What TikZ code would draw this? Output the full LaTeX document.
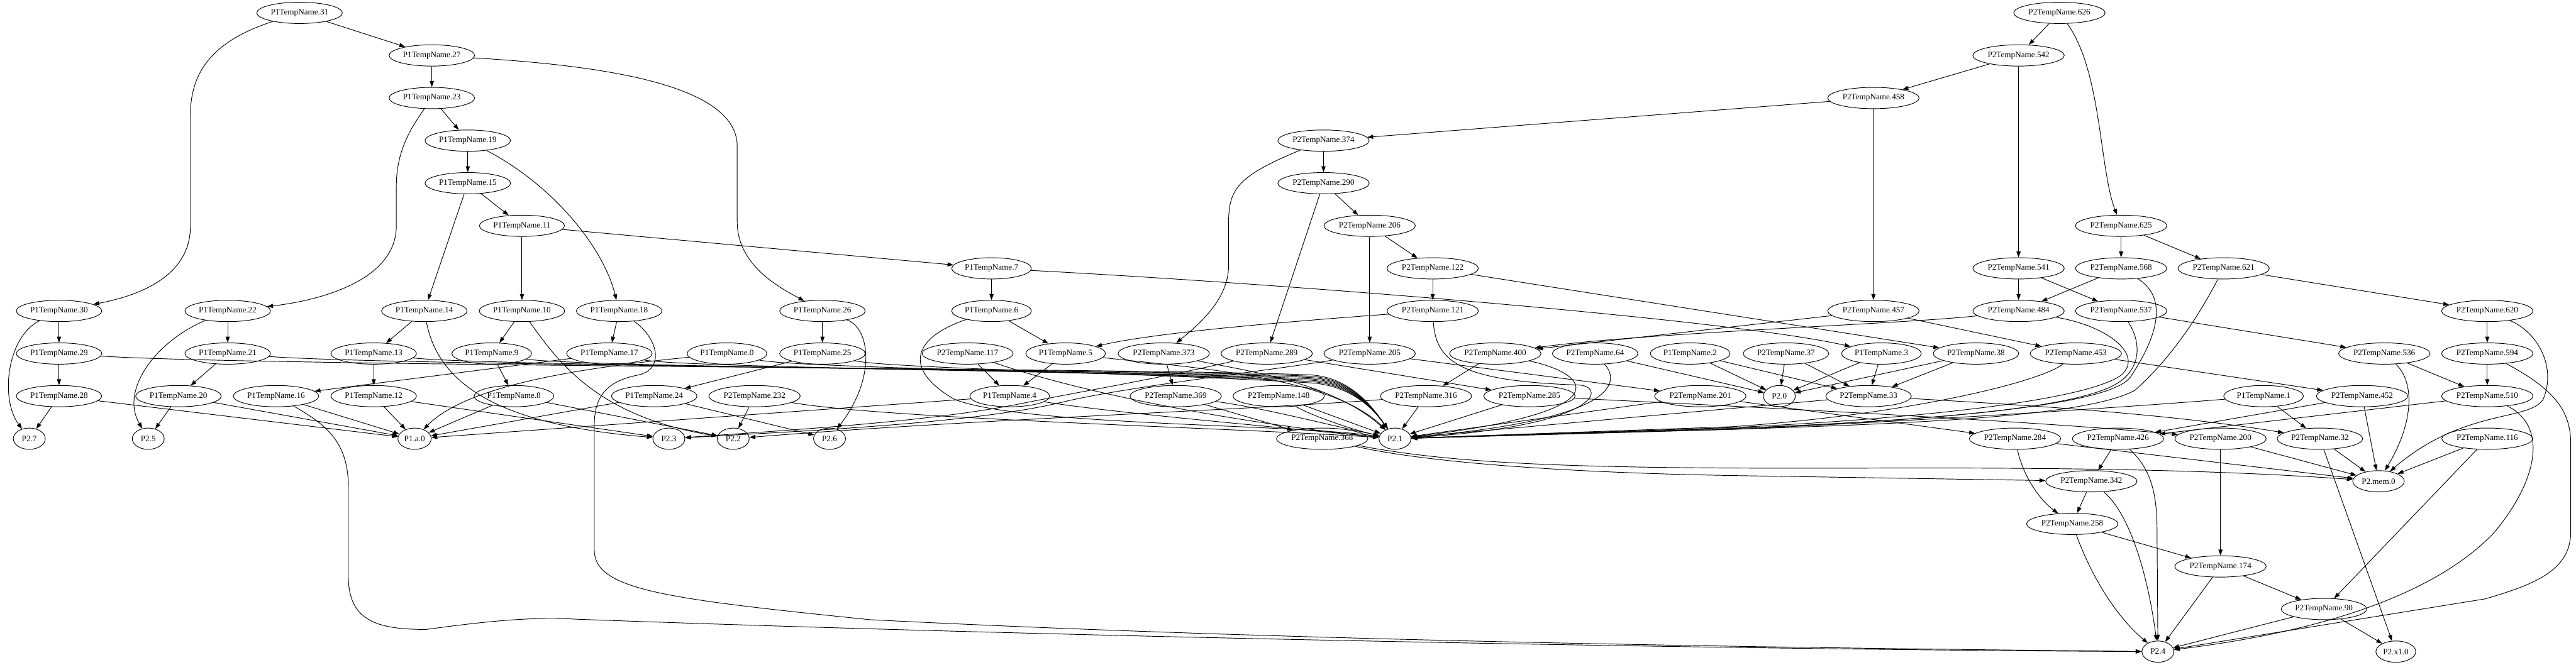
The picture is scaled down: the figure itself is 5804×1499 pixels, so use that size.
\documentclass[tikz,border=0pt]{standalone}
\usepackage{fontspec}
\setmainfont{Liberation Serif}
\usepackage{tikz}
\usetikzlibrary{arrows.meta,shapes.geometric}

\tikzset{
  tnode/.style={draw=\cLine, text=\cText, line width=1pt, ellipse, minimum width=54pt, minimum height=36pt,
    inner xsep=2.4pt, inner ysep=0pt, font=\fontsize{14}{16}\selectfont},
  link/.style={draw=\cLine, line width=1pt, -{Triangle[length=10pt,width=7pt]}}
}

\begin{document}
\begin{tikzpicture}[x=0.75pt,y=-0.75pt]
\def\cLine{black}
\def\cText{black}
\useasboundingbox (0,0) rectangle (5804,1499);
% P1 nodes
\node[tnode] (p1t31) at (675,29) {P1TempName.31};
\node[tnode] (p1t27) at (973,125) {P1TempName.27};
\node[tnode] (p1t23) at (973,221) {P1TempName.23};
\node[tnode] (p1t19) at (1054,317) {P1TempName.19};
\node[tnode] (p1t15) at (1054,413) {P1TempName.15};
\node[tnode] (p1t11) at (1176,509) {P1TempName.11};
\node[tnode] (p1t7) at (2234,605) {P1TempName.7};
\node[tnode] (p1t30) at (133,701) {P1TempName.30};
\node[tnode] (p1t22) at (513,701) {P1TempName.22};
\node[tnode] (p1t14) at (956,701) {P1TempName.14};
\node[tnode] (p1t10) at (1176,701) {P1TempName.10};
\node[tnode] (p1t18) at (1395,701) {P1TempName.18};
\node[tnode] (p1t26) at (1853,701) {P1TempName.26};
\node[tnode] (p1t6) at (2234,701) {P1TempName.6};
\node[tnode] (p1t29) at (133,797) {P1TempName.29};
\node[tnode] (p1t21) at (513,797) {P1TempName.21};
\node[tnode] (p1t13) at (842,797) {P1TempName.13};
\node[tnode] (p1t9) at (1108,797) {P1TempName.9};
\node[tnode] (p1t17) at (1373,797) {P1TempName.17};
\node[tnode] (p1t0) at (1638,797) {P1TempName.0};
\node[tnode] (p1t25) at (1853,797) {P1TempName.25};
\node[tnode] (p1t5) at (2401,797) {P1TempName.5};
\node[tnode] (p1t2) at (3808,797) {P1TempName.2};
\node[tnode] (p1t3) at (4239,797) {P1TempName.3};
\node[tnode] (p1t28) at (133,893) {P1TempName.28};
\node[tnode] (p1t20) at (402,893) {P1TempName.20};
\node[tnode] (p1t16) at (622,893) {P1TempName.16};
\node[tnode] (p1t12) at (842,893) {P1TempName.12};
\node[tnode] (p1t8) at (1158,893) {P1TempName.8};
\node[tnode] (p1t24) at (1474,893) {P1TempName.24};
\node[tnode] (p1t4) at (2275,893) {P1TempName.4};
\node[tnode] (p1t1) at (5100,893) {P1TempName.1};
% P2 nodes
\node[tnode] (p2t626) at (4640,29) {P2TempName.626};
\node[tnode] (p2t542) at (4548,125) {P2TempName.542};
\node[tnode] (p2t458) at (4221,221) {P2TempName.458};
\node[tnode] (p2t374) at (2982,317) {P2TempName.374};
\node[tnode] (p2t290) at (2982,413) {P2TempName.290};
\node[tnode] (p2t206) at (3086,509) {P2TempName.206};
\node[tnode] (p2t625) at (4779,509) {P2TempName.625};
\node[tnode] (p2t122) at (3228,605) {P2TempName.122};
\node[tnode] (p2t541) at (4548,605) {P2TempName.541};
\node[tnode] (p2t568) at (4779,605) {P2TempName.568};
\node[tnode] (p2t621) at (5010,605) {P2TempName.621};
\node[tnode] (p2t121) at (3228,701) {P2TempName.121};
\node[tnode] (p2t457) at (4221,701) {P2TempName.457};
\node[tnode] (p2t484) at (4548,701) {P2TempName.484};
\node[tnode] (p2t537) at (4779,701) {P2TempName.537};
\node[tnode] (p2t620) at (5604,701) {P2TempName.620};
\node[tnode] (p2t117) at (2180,797) {P2TempName.117};
\node[tnode] (p2t373) at (2622,797) {P2TempName.373};
\node[tnode] (p2t289) at (2854,797) {P2TempName.289};
\node[tnode] (p2t205) at (3086,797) {P2TempName.205};
\node[tnode] (p2t400) at (3369,797) {P2TempName.400};
\node[tnode] (p2t64) at (3594,797) {P2TempName.64};
\node[tnode] (p2t37) at (4024,797) {P2TempName.37};
\node[tnode] (p2t38) at (4452,797) {P2TempName.38};
\node[tnode] (p2t453) at (4677,797) {P2TempName.453};
\node[tnode] (p2t536) at (5372,797) {P2TempName.536};
\node[tnode] (p2t594) at (5604,797) {P2TempName.594};
\node[tnode] (p2t232) at (1700,893) {P2TempName.232};
\node[tnode] (p2t369) at (2649,893) {P2TempName.369};
\node[tnode] (p2t148) at (2881,893) {P2TempName.148};
\node[tnode] (p2t316) at (3213,893) {P2TempName.316};
\node[tnode] (p2t285) at (3446,893) {P2TempName.285};
\node[tnode] (p2t201) at (3831,893) {P2TempName.201};
\node[tnode] (p2t33) at (4210,893) {P2TempName.33};
\node[tnode] (p2t452) at (5322,893) {P2TempName.452};
\node[tnode] (p2t510) at (5604,893) {P2TempName.510};
\node[tnode] (p2t368) at (2979,989) {P2TempName.368};
\node[tnode] (p2t284) at (4540,989) {P2TempName.284};
\node[tnode] (p2t426) at (4772,989) {P2TempName.426};
\node[tnode] (p2t200) at (5003,989) {P2TempName.200};
\node[tnode] (p2t32) at (5227,989) {P2TempName.32};
\node[tnode] (p2t116) at (5604,989) {P2TempName.116};
\node[tnode] (p2t342) at (4712,1085) {P2TempName.342};
\node[tnode] (p2t258) at (4669,1181) {P2TempName.258};
\node[tnode] (p2t174) at (5003,1277) {P2TempName.174};
\node[tnode] (p2t90) at (5236,1373) {P2TempName.90};
% values
\node[tnode] (p2n7) at (66,989) {P2.7};
\node[tnode] (p2n5) at (334,989) {P2.5};
\node[tnode] (p1a0) at (934,989) {P1.a.0};
\node[tnode] (p2n3) at (1507,989) {P2.3};
\node[tnode] (p2n2) at (1652,989) {P2.2};
\node[tnode] (p2n6) at (1869,989) {P2.6};
\node[tnode] (p2n1) at (3143,989) {P2.1};
\node[tnode] (p2n0) at (4009,893) {P2.0};
\node[tnode] (p2mem0) at (5359,1085) {P2.mem.0};
\node[tnode] (p2n4) at (4862,1469) {P2.4};
\node[tnode] (p2x10) at (5398,1469) {P2.x1.0};

% P1 edges
\draw[link] (p1t31) -- (p1t27);
\draw[link] (p1t31) .. controls (470,95) and (429,170) .. (429,260) -- (429,510) .. controls (429,620) and (320,665) .. (p1t30);
\draw[link] (p1t27) -- (p1t23);
\draw[link] (p1t27) .. controls (1400,150) and (1661,200) .. (1661,330) -- (1661,500) .. controls (1661,600) and (1760,650) .. (p1t26);
\draw[link] (p1t23) .. controls (925,290) and (893,340) .. (893,420) -- (893,509) .. controls (893,640) and (700,680) .. (p1t22);
\draw[link] (p1t23) -- (p1t19);
\draw[link] (p1t19) -- (p1t15);
\draw[link] (p1t19) .. controls (1250,420) and (1360,560) .. (p1t18);
\draw[link] (p1t15) -- (p1t14);
\draw[link] (p1t15) -- (p1t11);
\draw[link] (p1t11) -- (p1t10);
\draw[link] (p1t11) -- (p1t7);
\draw[link] (p1t7) -- (p1t6);
\draw[link] (p1t7) .. controls (2900,640) and (3900,720) .. (p1t3);
\draw[link] (p1t30) -- (p1t29);
\draw[link] (p1t30) .. controls (15,760) and (0,900) .. (p2n7);
\draw[link] (p1t29) -- (p1t28);
\draw[link] (p1t29) .. controls (600,826) and (2600,830) .. (2950,845) .. controls (3050,850) and (3100,930) .. (p2n1);
\draw[link] (p1t28) -- (p2n7);
\draw[link] (p1t28) -- (p1a0);
\draw[link] (p1t22) -- (p1t21);
\draw[link] (p1t22) .. controls (350,770) and (270,880) .. (p2n5);
\draw[link] (p1t21) -- (p1t20);
\draw[link] (p1t21) .. controls (900,825) and (2600,832) .. (2950,848) .. controls (3050,853) and (3100,930) .. (p2n1);
\draw[link] (p1t20) -- (p2n5);
\draw[link] (p1t20) -- (p1a0);
\draw[link] (p1t14) -- (p1t13);
\draw[link] (p1t14) .. controls (990,880) and (1150,960) .. (p2n3);
\draw[link] (p1t13) -- (p1t12);
\draw[link] (p1t13) .. controls (1100,826) and (2600,834) .. (2950,851) .. controls (3050,856) and (3100,930) .. (p2n1);
\draw[link] (p1t12) -- (p1a0);
\draw[link] (p1t12) -- (p2n3);
\draw[link] (p1t10) -- (p1t9);
\draw[link] (p1t10) .. controls (1260,820) and (1350,940) .. (p2n2);
\draw[link] (p1t9) -- (p1t8);
\draw[link] (p1t9) .. controls (1300,828) and (2600,836) .. (2950,854) .. controls (3050,859) and (3100,930) .. (p2n1);
\draw[link] (p1t8) -- (p1a0);
\draw[link] (p1t8) -- (p2n2);
\draw[link] (p1t18) -- (p1t17);
\draw[link] (p1t18) .. controls (1480,760) and (1500,830) .. (1440,845) .. controls (1360,860) and (1339,900) .. (1339,960) -- (1339,1240) .. controls (1339,1330) and (1500,1350) .. (1960,1397) .. controls (3000,1450) and (4200,1462) .. (p2n4);
\draw[link] (p1t17) -- (p1t16);
\draw[link] (p1t17) .. controls (1550,830) and (2600,838) .. (2950,857) .. controls (3050,862) and (3100,930) .. (p2n1);
\draw[link] (p1t16) -- (p1a0);
\draw[link] (p1t16) .. controls (740,960) and (785,1000) .. (785,1100) -- (785,1300) .. controls (785,1400) and (850,1419) .. (960,1419) .. controls (1100,1400) and (1200,1390) .. (1300,1396) .. controls (2500,1440) and (4000,1465) .. (p2n4);
\draw[link] (p1t0) .. controls (1300,830) and (1050,870) .. (p1a0);
\draw[link] (p1t0) .. controls (1800,830) and (2600,840) .. (2950,860) .. controls (3050,865) and (3100,930) .. (p2n1);
\draw[link] (p1t26) -- (p1t25);
\draw[link] (p1t26) .. controls (1960,740) and (1975,850) .. (p2n6);
\draw[link] (p1t25) -- (p1t24);
\draw[link] (p1t25) .. controls (2000,830) and (2600,842) .. (2950,863) .. controls (3050,868) and (3100,930) .. (p2n1);
\draw[link] (p1t24) -- (p1a0);
\draw[link] (p1t24) -- (p2n6);
\draw[link] (p1t6) -- (p1t5);
\draw[link] (p1t6) .. controls (2060,760) and (2030,830) .. (2150,900) .. controls (2300,960) and (2900,955) .. (p2n1);
\draw[link] (p1t5) -- (p1t4);
\draw[link] (p1t5) .. controls (2700,830) and (3000,850) .. (p2n1);
\draw[link] (p1t4) -- (p1a0);
\draw[link] (p1t4) .. controls (2500,930) and (2900,965) .. (p2n1);
\draw[link] (p1t2) -- (p2n0);
\draw[link] (p1t2) -- (p2t33);
\draw[link] (p1t3) -- (p2n0);
\draw[link] (p1t3) -- (p2t33);
\draw[link] (p1t1) -- (p2t32);
\draw[link] (p1t1) .. controls (4700,925) and (4200,955) .. (3900,968) -- (p2n1);

% P2 edges
\draw[link] (p2t626) -- (p2t542);
\draw[link] (p2t626) .. controls (4735,160) and (4730,380) .. (p2t625);
\draw[link] (p2t542) -- (p2t458);
\draw[link] (p2t542) -- (p2t541);
\draw[link] (p2t458) -- (p2t374);
\draw[link] (p2t458) -- (p2t457);
\draw[link] (p2t374) -- (p2t290);
\draw[link] (p2t374) .. controls (2780,400) and (2768,430) .. (2768,509) -- (2768,600) .. controls (2768,680) and (2690,740) .. (p2t373);
\draw[link] (p2t290) -- (p2t206);
\draw[link] (p2t290) -- (p2t289);
\draw[link] (p2t206) -- (p2t122);
\draw[link] (p2t206) -- (p2t205);
\draw[link] (p2t122) -- (p2t121);
\draw[link] (p2t122) -- (p2t38);
\draw[link] (p2t121) .. controls (2900,725) and (2600,750) .. (p1t5);
\draw[link] (p2t121) .. controls (3235,820) and (3300,860) .. (3560,868) .. controls (3620,875) and (3600,960) .. (p2n1);
\draw[link] (p2t625) -- (p2t568);
\draw[link] (p2t625) -- (p2t621);
\draw[link] (p2t541) -- (p2t484);
\draw[link] (p2t541) -- (p2t537);
\draw[link] (p2t568) -- (p2t484);
\draw[link] (p2t568) .. controls (4900,680) and (4840,790) .. (4800,850) .. controls (4750,920) and (4300,950) .. (3900,966) -- (p2n1);
\draw[link] (p2t621) -- (p2t620);
\draw[link] (p2t621) .. controls (4960,700) and (4900,800) .. (4810,880) .. controls (4700,940) and (4300,955) .. (3900,968) -- (p2n1);
\draw[link] (p2t457) -- (p2t400);
\draw[link] (p2t457) -- (p2t453);
\draw[link] (p2t484) .. controls (4300,730) and (3700,750) .. (p2t400);
\draw[link] (p2t484) .. controls (4750,735) and (4830,800) .. (4780,845) .. controls (4700,905) and (4300,945) .. (3900,964) -- (p2n1);
\draw[link] (p2t537) -- (p2t536);
\draw[link] (p2t537) .. controls (4830,780) and (4820,840) .. (4760,870) .. controls (4650,925) and (4300,950) .. (3900,966) -- (p2n1);
\draw[link] (p2t620) -- (p2t594);
\draw[link] (p2t620) .. controls (5720,750) and (5760,830) .. (5730,900) .. controls (5700,950) and (5550,920) .. (p2mem0);
\draw[link] (p2t117) -- (p1t4);
\draw[link] (p2t117) .. controls (2450,890) and (2800,955) .. (p2n1);
\draw[link] (p2t373) -- (p2t369);
\draw[link] (p2t373) .. controls (2800,835) and (3000,860) .. (p2n1);
\draw[link] (p2t289) -- (p2t285);
\draw[link] (p2t289) .. controls (2600,855) and (2450,880) .. (2300,910) .. controls (2100,950) and (1800,968) .. (p2n3);
\draw[link] (p2t205) -- (p2t201);
\draw[link] (p2t205) .. controls (2900,830) and (2550,870) .. (2400,905) .. controls (2200,955) and (1800,972) .. (p2n3);
\draw[link] (p2t400) -- (p2t316);
\draw[link] (p2t400) .. controls (3590,845) and (3650,930) .. (p2n1);
\draw[link] (p2t64) -- (p2n0);
\draw[link] (p2t64) .. controls (3650,860) and (3650,945) .. (p2n1);
\draw[link] (p2t37) -- (p2n0);
\draw[link] (p2t37) -- (p2t33);
\draw[link] (p2t38) -- (p2n0);
\draw[link] (p2t38) -- (p2t33);
\draw[link] (p2t453) -- (p2t452);
\draw[link] (p2t453) .. controls (4600,860) and (4300,935) .. (3900,962) -- (p2n1);
\draw[link] (p2t536) -- (p2t510);
\draw[link] (p2t536) .. controls (5440,860) and (5440,950) .. (p2mem0);
\draw[link] (p2t594) -- (p2t510);
\draw[link] (p2t594) .. controls (5760,880) and (5792,930) .. (5792,1000) -- (5792,1200) .. controls (5792,1290) and (5700,1320) .. (5600,1350) -- (p2n4);
\draw[link] (p2t232) -- (p2n2);
\draw[link] (p2t232) .. controls (2000,945) and (2800,965) .. (p2n1);
\draw[link] (p2t369) -- (p2t368);
\draw[link] (p2t369) .. controls (2850,920) and (3000,960) .. (p2n1);
\draw[link] (p2t148) -- (p2n1);
\draw[link] (p2t148) .. controls (2950,935) and (3050,970) .. (p2n1);
\draw[link] (p2t316) -- (p2n1);
\draw[link] (p2t316) .. controls (2800,925) and (2200,945) .. (p2n2);
\draw[link] (p2t285) -- (p2n1);
\draw[link] (p2t285) .. controls (3900,915) and (4600,950) .. (p2t200);
\draw[link] (p2t201) -- (p2n1);
\draw[link] (p2t201) -- (p2t284);
\draw[link] (p2t33) -- (p2n1);
\draw[link] (p2t33) .. controls (4600,915) and (4900,935) .. (p2t32);
\draw[link] (p2t452) -- (p2t426);
\draw[link] (p2t452) -- (p2mem0);
\draw[link] (p2t510) -- (p2t426);
\draw[link] (p2t510) .. controls (5740,960) and (5720,1080) .. (5620,1200) .. controls (5450,1380) and (5100,1440) .. (p2n4);
\draw[link] (p2t368) .. controls (3200,1040) and (3500,1065) .. (3900,1072) -- (p2t342);
\draw[link] (p2t368) .. controls (3300,1050) and (3600,1058) .. (4300,1055) .. controls (4700,1055) and (5000,1060) .. (p2mem0);
\draw[link] (p2t284) .. controls (4560,1080) and (4600,1130) .. (p2t258);
\draw[link] (p2t284) -- (p2mem0);
\draw[link] (p2t426) -- (p2t342);
\draw[link] (p2t426) .. controls (4850,1060) and (4860,1120) .. (4860,1200) -- (p2n4);
\draw[link] (p2t200) -- (p2t174);
\draw[link] (p2t200) -- (p2mem0);
\draw[link] (p2t32) -- (p2mem0);
\draw[link] (p2t32) -- (p2x10);
\draw[link] (p2t116) -- (p2mem0);
\draw[link] (p2t116) -- (p2t90);
\draw[link] (p2t342) -- (p2t258);
\draw[link] (p2t342) .. controls (4800,1160) and (4840,1300) .. (p2n4);
\draw[link] (p2t258) -- (p2t174);
\draw[link] (p2t258) .. controls (4720,1320) and (4780,1400) .. (p2n4);
\draw[link] (p2t174) -- (p2t90);
\draw[link] (p2t174) -- (p2n4);
\draw[link] (p2t90) -- (p2n4);
\draw[link] (p2t90) -- (p2x10);
\end{tikzpicture}
\end{document}
